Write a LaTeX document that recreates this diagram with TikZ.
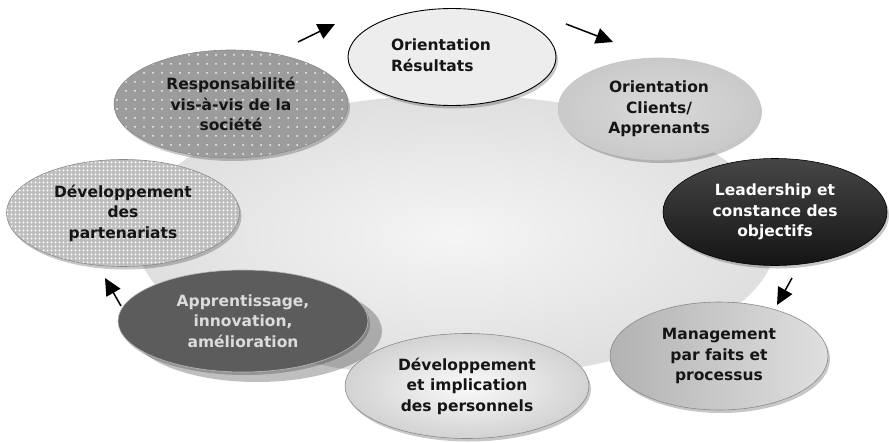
\documentclass[tikz,border=0pt]{standalone}
\usepackage{fontspec}
\setmainfont{DejaVu Sans}
\usetikzlibrary{shapes.geometric,arrows.meta,patterns.meta,shadows}

\definecolor{txtdark}{HTML}{151515}
\definecolor{txtlight}{HTML}{DCDCDC}
\definecolor{rimgray}{HTML}{8A8A8A}
\definecolor{respgray}{HTML}{9C9C9C}
\definecolor{partgray}{HTML}{BEBEBE}

\begin{document}
\begin{tikzpicture}[x=1pt,y=-1pt,
  labeltext/.style={align=center, inner sep=0pt,
    font=\fontsize{15.5}{20.5}\selectfont\bfseries, text=txtdark},
  oval/.style={ellipse, inner sep=0pt, labeltext, draw=rimgray, line width=0.6pt,
    drop shadow={shadow xshift=2pt, shadow yshift=-3pt, fill=black, opacity=0.22}},
  flow/.style={-{Triangle[length=17pt,width=16pt]}, line width=1.5pt, black}
]
\useasboundingbox (0,0) rectangle (889,442);
\fill[white] (0,0) rectangle (889,442);

% central disc behind the ring of principles
\node[ellipse, inner sep=0pt, minimum width=640pt, minimum height=280pt,
      inner color=gray!8, outer color=gray!25,
      drop shadow={shadow xshift=2pt, shadow yshift=-3pt, fill=black, opacity=0.12}]
      (hub) at (455,235) {};

% ring of principles
\node[oval, minimum width=202pt, minimum height=102pt,
      inner color=gray!30, outer color=gray!42, draw=gray!45]
      (clients) at (659,109) {Orientation\\Clients/\\Apprenants};

\node[oval, minimum width=208pt, minimum height=97pt, fill=gray!14, draw=black,
      line width=0.9pt]
      (resultats) at (452,57) {};
\node[labeltext, align=left] (resultatsText) at (441,55) {Orientation\\Résultats};

\node[oval, minimum width=224pt, minimum height=107pt, text=white, draw=black,
      top color=gray!55!black, middle color=black, bottom color=black!92]
      (leader) at (775,212) {Leadership et\\constance des\\objectifs};

\node[oval, minimum width=218pt, minimum height=108pt,
      left color=gray!60, right color=gray!25]
      (management) at (719,356) {Management\\par faits et\\processus};

\node[oval, minimum width=250pt, minimum height=102pt,
      fill=gray!72!black, draw=gray!55, text=txtlight,
      drop shadow={shadow xshift=14pt, shadow yshift=-10pt, fill=black, opacity=0.25}]
      (apprent) at (243,321) {Apprentissage,\\innovation,\\amélioration};

\node[oval, minimum width=244pt, minimum height=105pt,
      inner color=gray!4, outer color=gray!35]
      (personnels) at (467,386) {Développement\\et implication\\des personnels};

\node[oval, minimum width=233pt, minimum height=107pt,
      preaction={fill=partgray}, pattern={Dots[distance=4pt,radius=1.25pt]}, pattern color=white]
      (partenariats) at (123,213) {Développement\\des\\partenariats};

\node[oval, minimum width=234pt, minimum height=108pt,
      preaction={fill=respgray}, pattern={Dots[distance=9pt,radius=1pt]}, pattern color=white!92!gray]
      (societe) at (231,104) {Responsabilité\\vis-à-vis de la\\société};

% cycle arrows
\coordinate (a1s) at (298,42);  \coordinate (a1e) at (335,24);
\coordinate (a2s) at (566,24);  \coordinate (a2e) at (613,42);
\coordinate (a3s) at (792,278); \coordinate (a3e) at (777,305);
\coordinate (a4s) at (121,306); \coordinate (a4e) at (105,278);
\draw[flow] (a1s) -- (a1e);
\draw[flow] (a2s) -- (a2e);
\draw[flow] (a3s) -- (a3e);
\draw[flow] (a4s) -- (a4e);
\end{tikzpicture}
\end{document}
